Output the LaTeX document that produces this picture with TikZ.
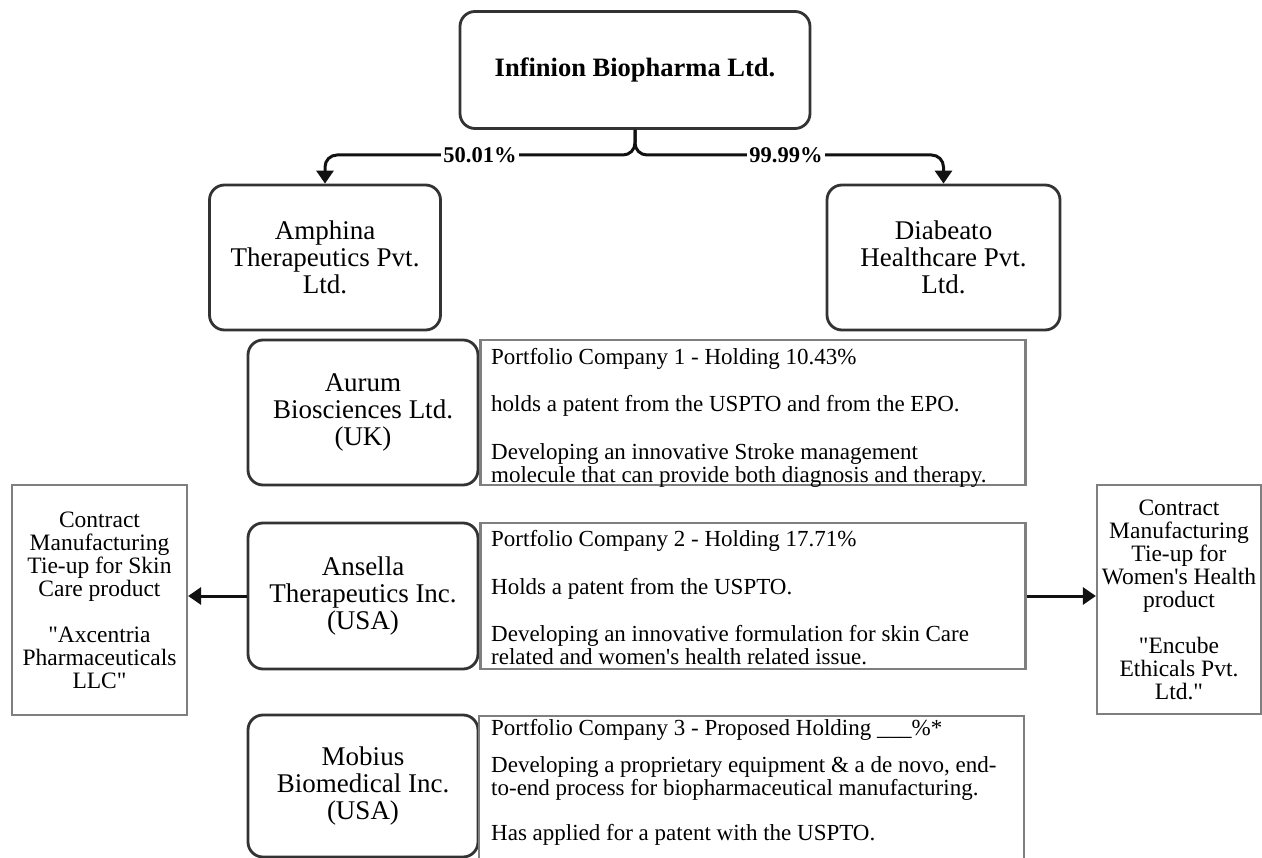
\documentclass[tikz,border=0pt]{standalone}
\usepackage{fontspec}
\setmainfont{Liberation Serif}[Ligatures=TeXOff]
\usetikzlibrary{arrows.meta}
\definecolor{boxdark}{HTML}{333333}
\definecolor{boxgray}{HTML}{7F7F7F}
\definecolor{linedark}{HTML}{111111}
\begin{document}
\begin{tikzpicture}[x=1pt,y=-1pt,
  rbox/.style={draw=boxdark, line width=2.8pt, rounded corners=15pt, align=center, inner sep=0pt,
    font=\fontsize{27}{27}\selectfont},
  pbox/.style={draw=boxgray, line width=2.2pt, inner sep=0pt},
  ptext/.style={align=left, inner sep=0pt, anchor=north west, font=\fontsize{23}{22.8}\selectfont},
  cbox/.style={draw=boxgray, line width=2.2pt, align=center, inner sep=0pt,
    font=\fontsize{23.5}{23}\selectfont},
  conn/.style={draw=linedark, line width=3pt, -{Triangle[length=13pt,width=17pt]}},
  pct/.style={fill=white, inner sep=2pt, font=\fontsize{22.5}{22}\selectfont\bfseries}
]
\useasboundingbox (0,0) rectangle (1262,858);
\fill[white] (0,0) rectangle (1262,858);

% top
\node[rbox, minimum width=350pt, minimum height=117pt, font=\fontsize{26.5}{27}\selectfont\bfseries] (top) at (635,70) {Infinion Biopharma Ltd.};
\node[rbox, minimum width=231pt, minimum height=145pt] (amph) at (325,257.5) {Amphina\\Therapeutics Pvt.\\Ltd.};
\node[rbox, minimum width=233pt, minimum height=145pt] (diab) at (943.5,257.5) {Diabeato\\Healthcare Pvt.\\Ltd.};

\coordinate (split) at (635,155);
\draw[conn, rounded corners=12pt] (top.south) |- (amph.north |- split) -- (amph.north);
\draw[conn, rounded corners=12pt] (top.south) |- (diab.north |- split) -- (diab.north);
\node[pct] (l1) at (480,155) {50.01\%};
\node[pct] (l2) at (786,155) {99.99\%};

% portfolio rows
\node[rbox, minimum width=230pt, minimum height=145pt] (aurum) at (363,412.5) {Aurum\\Biosciences Ltd.\\(UK)};
\node[pbox, minimum width=545pt, minimum height=145pt, anchor=west] (p1) at (aurum.east) {};
\node[ptext] (p1t) at (491,347.5) {\rule{0pt}{17pt}Portfolio Company 1 - Holding 10.43\%\\[24.5pt]holds a patent from the USPTO and from the EPO.\\[24.5pt]Developing an innovative Stroke management\\molecule that can provide both diagnosis and therapy.};

\node[rbox, minimum width=230pt, minimum height=146pt] (ans) at (363,596) {Ansella\\Therapeutics Inc.\\(USA)};
\node[pbox, minimum width=545pt, minimum height=146pt, anchor=west] (p2) at (ans.east) {};
\node[ptext] (p2t) at (491,529.5) {\rule{0pt}{17pt}Portfolio Company 2 - Holding 17.71\%\\[24.5pt]Holds a patent from the USPTO.\\[24.5pt]Developing an innovative formulation for skin Care\\related and women's health related issue.};

\node[rbox, minimum width=230pt, minimum height=142pt] (mob) at (363,786) {Mobius\\Biomedical Inc.\\(USA)};
\node[pbox, minimum width=545pt, minimum height=150pt, anchor=north west] (p3) at (478,715) {};
\node[ptext] (p3t) at (491,718) {\rule{0pt}{17pt}Portfolio Company 3 - Proposed Holding \_\_\_\%*\\[14.5pt]Developing a proprietary equipment \& a de novo, end-\\to-end process for biopharmaceutical manufacturing.\\[22pt]Has applied for a patent with the USPTO.};

% contract boxes
\node[cbox, minimum width=175pt, minimum height=230pt] (cl) at (99.5,600) {Contract\\Manufacturing\\Tie-up for Skin\\Care product\\[23pt]"Axcentria\\Pharmaceuticals\\LLC"};
\node[cbox, minimum width=164pt, minimum height=229pt] (cr) at (1179,599.5) {Contract\\Manufacturing\\Tie-up for\\Women's Health\\product\\[23pt]"Encube\\Ethicals Pvt.\\Ltd."};

\draw[conn] (ans.west) -- (ans.west -| cl.east);
\draw[conn] (p2.east) -- (p2.east -| cr.west);
\end{tikzpicture}
\end{document}
